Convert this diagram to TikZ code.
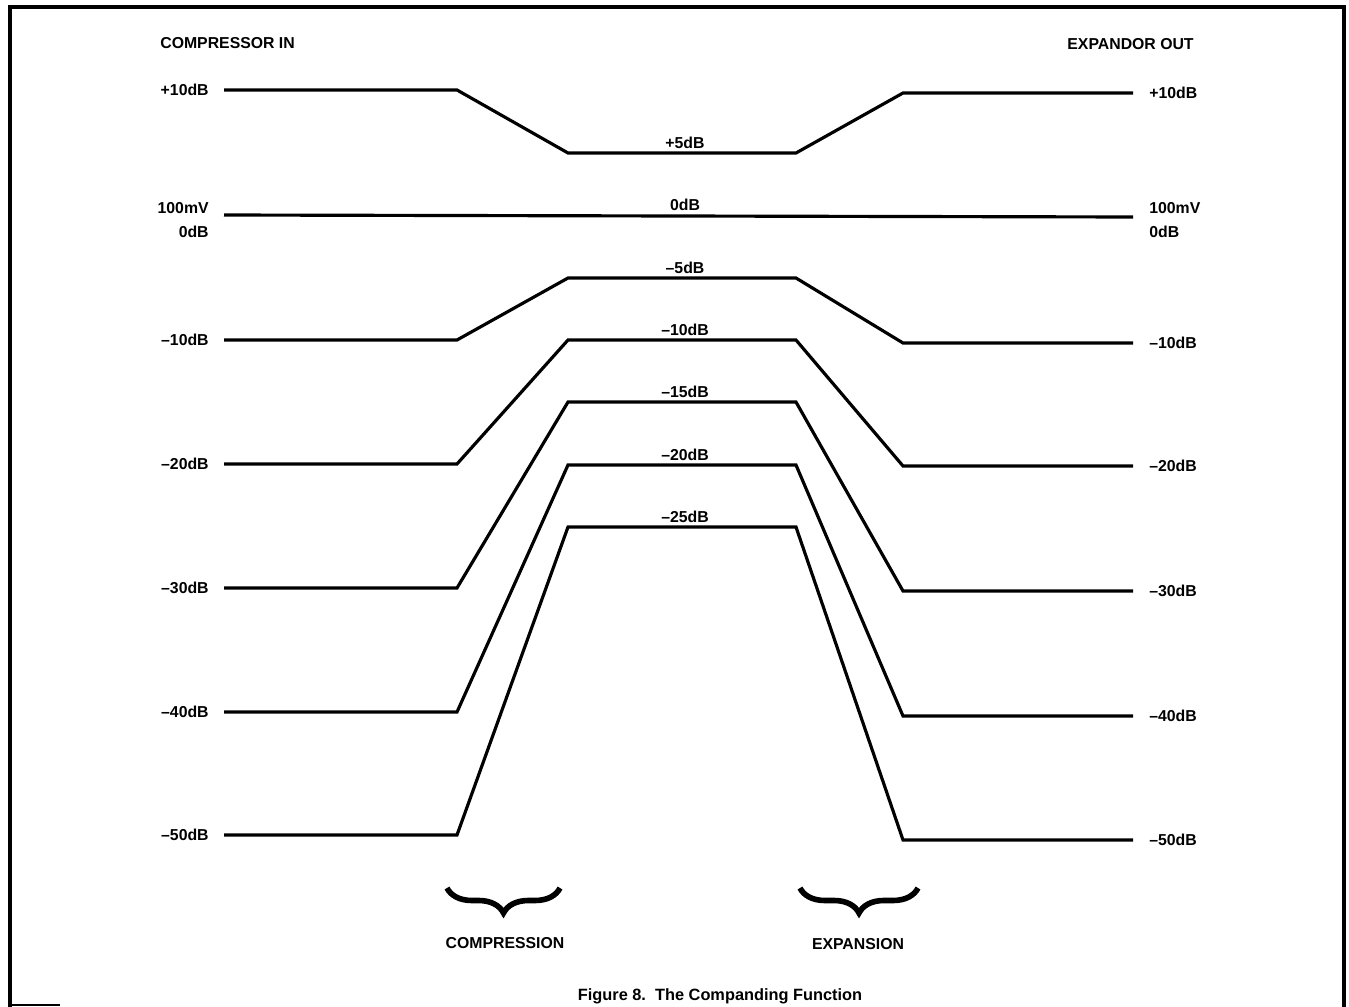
\documentclass[tikz,border=0pt]{standalone}
\usepackage{fontspec}
\setmainfont{Liberation Sans}
\usetikzlibrary{decorations.pathreplacing}

\begin{document}
\begin{tikzpicture}[x=0.02cm,y=-0.02cm,
  lvl/.style={line width=1.8pt},
  lbl/.style={font=\fontsize{9}{10}\selectfont\bfseries,inner sep=0pt},
  brc/.style={line width=3.2pt,decorate,decoration={brace,mirror,amplitude=0.5cm}}]
\useasboundingbox (0,0) rectangle (1349,1007);
\draw [line width=2pt] (10,1007) -- (10,7) -- (1344,7) -- (1344,1007);
\draw [line width=1.2pt] (10,1005) -- (60,1005);
\node [lbl,anchor=west] (cin) at (160,43) {COMPRESSOR IN};
\node [lbl,anchor=east] (eout) at (1194,44) {EXPANDOR OUT};
\draw [lvl] (224,215) -- (1133,217);
\node [lbl,anchor=south] (mid0) at (685,211) {0dB};
\node [lbl,anchor=east] (inmv) at (209,208) {100mV};
\node [lbl,anchor=east] (in0) at (209,232) {0dB};
\node [lbl,anchor=west] (outmv) at (1149,208) {100mV};
\node [lbl,anchor=west] (out0) at (1149,232) {0dB};
\foreach \ly/\cy/\ry/\lt/\ct/\k in {90/153/93/+10dB/+5dB/p10, 340/278/343/--10dB/--5dB/m10,
  464/340/466/--20dB/--10dB/m20, 588/402/591/--30dB/--15dB/m30,
  712/465/716/--40dB/--20dB/m40, 835/527/840/--50dB/--25dB/m50}{
  \draw [lvl] (224,\ly) -- (457,\ly) -- (568,\cy) -- (796,\cy) -- (903,\ry) -- (1133,\ry);
  \node [lbl,anchor=east] (in\k) at (209,\ly) {\lt};
  \node [lbl,anchor=west] (out\k) at (1149,\ry) {\lt};
  \node [lbl,anchor=south] (mid\k) at (685,\cy-4) {\ct};
}
\draw [brc] (447,888) -- (560,888);
\draw [brc] (800,888) -- (918,888);
\node [lbl] (comp) at (505,943) {COMPRESSION};
\node [lbl] (expa) at (858,944) {EXPANSION};
\node [lbl,font=\fontsize{9.3}{11}\selectfont\bfseries] (cap) at (720,996) {Figure 8.\ \ The Companding Function};
\end{tikzpicture}
\end{document}
